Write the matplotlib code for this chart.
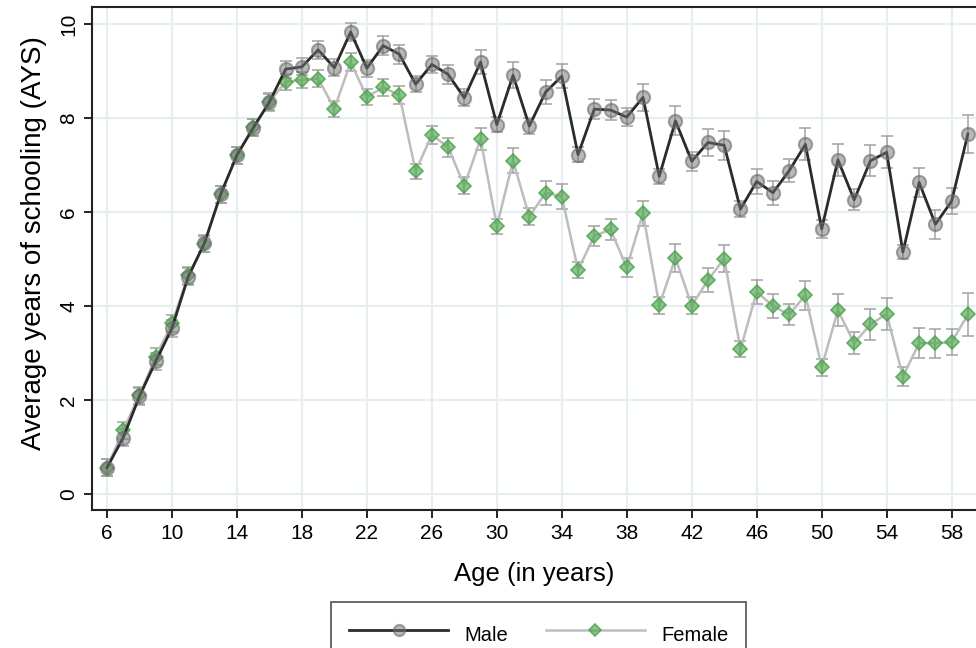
import numpy as np
import matplotlib
matplotlib.use("Agg")
import matplotlib.pyplot as plt

plt.rcParams['font.family'] = ['Liberation Sans', 'DejaVu Sans']

ages = list(range(6, 60))

male_ays = [0.56, 1.20, 2.08, 2.82, 3.53, 4.62, 5.34, 6.38, 7.21, 7.79,
            8.34, 9.04, 9.09, 9.45, 9.07, 9.83, 9.06, 9.54, 9.36, 8.72,
            9.14, 8.93, 8.43, 9.19, 7.86, 8.91, 7.83, 8.55, 8.89, 7.22,
            8.19, 8.17, 8.02, 8.44, 6.76, 7.94, 7.08, 7.48, 7.42, 6.06,
            6.65, 6.41, 6.88, 7.44, 5.64, 7.11, 6.26, 7.09, 7.27, 5.15,
            6.63, 5.74, 6.23, 7.66]
male_err = [0.18, 0.18, 0.18, 0.18, 0.18, 0.18, 0.18, 0.18, 0.18, 0.18,
            0.18, 0.18, 0.18, 0.19, 0.18, 0.19, 0.18, 0.20, 0.20, 0.17,
            0.19, 0.20, 0.18, 0.25, 0.16, 0.28, 0.17, 0.25, 0.26, 0.16,
            0.22, 0.22, 0.19, 0.29, 0.16, 0.31, 0.20, 0.28, 0.31, 0.17,
            0.26, 0.25, 0.24, 0.34, 0.19, 0.34, 0.22, 0.33, 0.34, 0.15,
            0.31, 0.31, 0.28, 0.41]

female_ays = [0.56, 1.36, 2.10, 2.92, 3.63, 4.65, 5.32, 6.38, 7.21, 7.80,
              8.35, 8.77, 8.81, 8.84, 8.20, 9.19, 8.45, 8.65, 8.49, 6.87,
              7.64, 7.38, 6.56, 7.55, 5.70, 7.09, 5.90, 6.41, 6.33, 4.77,
              5.49, 5.63, 4.82, 5.97, 4.02, 5.02, 4.01, 4.55, 5.01, 3.08,
              4.30, 4.00, 3.82, 4.23, 2.70, 3.91, 3.21, 3.61, 3.83, 2.50,
              3.21, 3.21, 3.23, 3.82]
female_err = [0.18, 0.18, 0.18, 0.18, 0.18, 0.18, 0.18, 0.18, 0.18, 0.18,
              0.18, 0.17, 0.17, 0.18, 0.17, 0.19, 0.17, 0.19, 0.19, 0.16,
              0.19, 0.20, 0.18, 0.24, 0.16, 0.27, 0.18, 0.25, 0.26, 0.17,
              0.22, 0.23, 0.20, 0.27, 0.18, 0.30, 0.18, 0.25, 0.29, 0.17,
              0.26, 0.25, 0.22, 0.31, 0.18, 0.34, 0.23, 0.33, 0.35, 0.20,
              0.32, 0.31, 0.28, 0.45]

x_ticks = list(range(6, 60, 4))
y_ticks = [0, 2, 4, 6, 8, 10]

fig = plt.figure(figsize=(9.76, 6.48), dpi=100)
ax = fig.add_axes([0.0943, 0.213, 0.9057, 0.776])

grid_col = '#e6eef1'
for t in x_ticks:
    ax.axvline(t, color=grid_col, lw=1.6, zorder=0)
for t in y_ticks:
    ax.axhline(t, color=grid_col, lw=1.6, zorder=0)

# error bars first, then lines / markers on top
ax.errorbar(ages, female_ays, yerr=female_err, fmt='none', ecolor='#a0a0a0',
            elinewidth=1.2, capsize=4.5, capthick=1.2, alpha=0.9, zorder=2)
ax.errorbar(ages, male_ays, yerr=male_err, fmt='none', ecolor='#a0a0a0',
            elinewidth=1.2, capsize=4.5, capthick=1.2, alpha=0.9, zorder=2)

ax.plot(ages, female_ays, color='#bdbdbd', lw=1.8, zorder=3,
        marker='D', markersize=7, markerfacecolor=(0.30, 0.65, 0.30, 0.65),
        markeredgecolor=(0.30, 0.65, 0.30, 0.85), markeredgewidth=1.2,
        label='Female')
ax.plot(ages, male_ays, color='#2b2b2b', lw=2.0, zorder=4,
        marker='o', markersize=9.5, markerfacecolor=(0.45, 0.45, 0.45, 0.5),
        markeredgecolor=(0.42, 0.42, 0.42, 0.6), markeredgewidth=1.5,
        label='Male')

ax.set_xlim(5.08, 59.5)
ax.set_ylim(-0.34, 10.36)
ax.set_xticks(x_ticks, labels=[str(t) for t in x_ticks], fontsize=15)
ax.set_yticks(y_ticks, labels=[str(t) for t in y_ticks], fontsize=15,
              rotation=90, va='center')
ax.tick_params(axis='both', length=6, width=1.2, direction='out', pad=4)

for s in ['left', 'bottom', 'top']:
    ax.spines[s].set_linewidth(1.5)
    ax.spines[s].set_color('#222222')
ax.spines['right'].set_visible(False)

ax.set_xlabel('Age (in years)', fontsize=18.5, labelpad=14)
ax.set_ylabel('Average years of schooling (AYS)', fontsize=20)
ax.yaxis.set_label_coords(-0.051, 0.53)

handles, labels = ax.get_legend_handles_labels()
leg = fig.legend(handles[::-1], labels[::-1], loc='upper center',
                 bbox_to_anchor=(0.552, 0.071), ncol=2, fontsize=14.5,
                 handlelength=4.9, handletextpad=0.8, columnspacing=1.9,
                 handleheight=1.8, borderaxespad=0.0,
                 frameon=True, fancybox=False, borderpad=0.9,
                 markerscale=0.85)
leg.get_frame().set_edgecolor('#222222')
leg.get_frame().set_linewidth(1.2)

fig.savefig('out.png', dpi=100)
